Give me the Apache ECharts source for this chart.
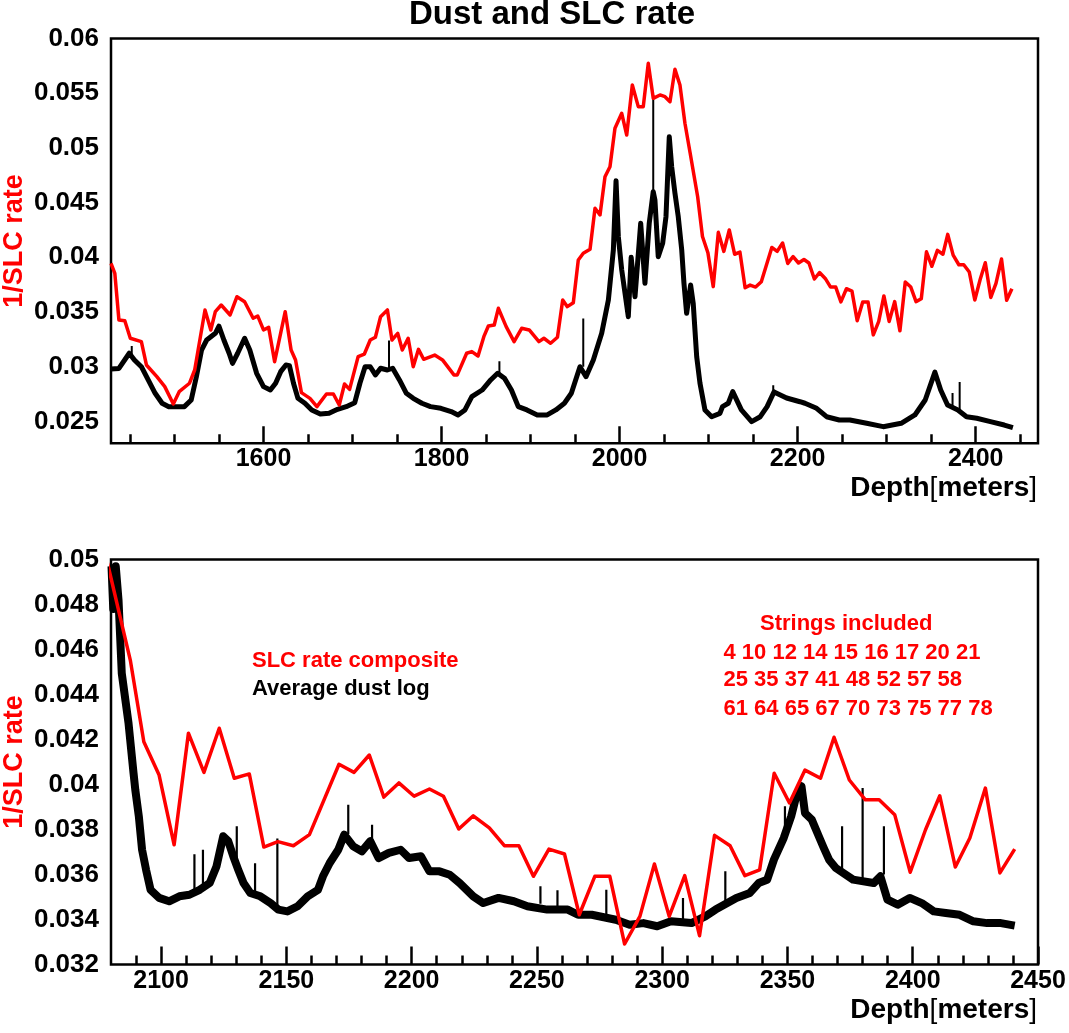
<!DOCTYPE html>
<html><head><meta charset="utf-8">
<script src="https://cdn.jsdelivr.net/npm/echarts@6/dist/echarts.min.js"></script>
<style>html,body{margin:0;padding:0;background:#fff}#c{width:1069px;height:1033px}</style>
</head><body><div id="c"></div><script>
// ---- SLC rate composite (1/SLC rate) ----
const redDepth = [1428.7,1433,1437.6,1444.2,1450.4,1462.8,1468.5,1480.2,1489.1,1498.7,1505.3,1516.9,1522.7,1534.3,1540.8,1545.9,1552.5,1562.5,1570.2,1578.8,1588.4,1593.5,1600,1605.8,1612.5,1624.4,1631,1636,1642.6,1652.2,1660,1670.7,1678.5,1685.1,1691,1696.7,1706.3,1713.3,1719.9,1725.7,1731.5,1739.2,1744.3,1750.8,1755.9,1762.5,1768.2,1774.1,1779.9,1792.3,1801.1,1813.9,1817.7,1828.2,1834,1841,1847.5,1852.6,1859.2,1863.8,1872.6,1881.5,1890,1898.5,1909.4,1915,1922.5,1930.2,1936.1,1941.3,1948,1953.6,1959.2,1966.8,1972.4,1978,1983.6,1989.2,1994.8,2002.4,2008,2014.3,2021,2026.6,2032.2,2037.8,2045.4,2051,2056.6,2062.2,2067.8,2073.4,2079.1,2087.7,2093.1,2099.2,2105.2,2110.9,2117.1,2123.2,2129.2,2135.2,2141,2146.6,2152.8,2159.2,2171,2177,2183.1,2188.9,2194.9,2201,2207.1,2212.7,2218.8,2224.6,2231,2237,2242.8,2248.6,2254.8,2261,2266.9,2273.1,2279.1,2285,2291.1,2296.9,2302.8,2309,2314.9,2320.9,2327.1,2333,2338.9,2344.7,2350.8,2357,2363.2,2368.6,2374.7,2381.1,2386.6,2392.8,2399,2405.1,2410.8,2417,2422.8,2429,2434.8,2440.7];
const redRate = [0.03945,0.03854,0.03427,0.03421,0.0326,0.03229,0.03016,0.02909,0.02818,0.0266,0.02772,0.02849,0.0297,0.03519,0.03336,0.03503,0.03564,0.03473,0.0364,0.03594,0.03443,0.03464,0.03336,0.0336,0.03046,0.03503,0.03153,0.03061,0.02763,0.02711,0.02635,0.02751,0.02751,0.0265,0.02842,0.02793,0.03092,0.03116,0.03244,0.03269,0.03457,0.03519,0.03244,0.03305,0.03153,0.0326,0.0300,0.03159,0.03068,0.03107,0.03062,0.02925,0.02925,0.03123,0.03138,0.03098,0.03275,0.03372,0.03381,0.03534,0.03366,0.03229,0.03351,0.03336,0.03229,0.0326,0.03214,0.03269,0.0361,0.03549,0.03585,0.03976,0.04037,0.04073,0.04448,0.04387,0.04737,0.04828,0.05179,0.05316,0.05118,0.05575,0.05377,0.05377,0.05773,0.05453,0.05484,0.05468,0.05422,0.05718,0.05575,0.05225,0.0496,0.04553,0.0419,0.04042,0.03732,0.04228,0.04054,0.0425,0.04028,0.04047,0.03722,0.03746,0.03728,0.03777,0.0409,0.04054,0.04131,0.03944,0.04007,0.03948,0.0398,0.03948,0.03802,0.03861,0.03807,0.03728,0.03728,0.03592,0.03713,0.03691,0.03421,0.03592,0.03592,0.03291,0.03414,0.03647,0.03414,0.03595,0.03328,0.03774,0.03728,0.03595,0.03621,0.0405,0.03918,0.04064,0.04028,0.0421,0.0402,0.03932,0.03932,0.03866,0.0361,0.03799,0.0395,0.03633,0.03762,0.03984,0.03607,0.03713];

// ---- Average dust log, as scaled in the upper panel ----
const dustTopDepth = [1428.7,1437.6,1449.2,1455,1462.8,1470.5,1478.3,1486.1,1493.6,1501.4,1511.1,1518.8,1524.6,1530.4,1536.2,1545.9,1550,1555.5,1561.4,1565.2,1571,1578.8,1584.6,1592.3,1600,1607.7,1613.6,1619.3,1625.2,1629.1,1633.7,1638.7,1646.5,1654.2,1663.8,1673.6,1683.2,1692.9,1702.5,1708.3,1714.1,1719.9,1725.7,1731.5,1739.2,1745.1,1752.7,1760.5,1768.2,1777.9,1787.6,1799.2,1810.8,1818.5,1826.3,1834,1845.6,1855.2,1863,1870.7,1878.5,1886.2,1895.9,1907.5,1918.7,1928.4,1938,1945.8,1955.5,1962.3,1970.5,1979.9,1987.4,1993,1996,1998.6,2002.4,2009.8,2013,2017.3,2023.7,2028.5,2033.3,2037.8,2039.7,2043.4,2048.4,2052.1,2055.8,2058.5,2062.2,2065.9,2069.8,2072.3,2075.3,2079.8,2082.7,2086.6,2090.3,2095.9,2103.4,2112.7,2115.6,2122.1,2127.1,2136.8,2148.3,2158,2165.7,2173.5,2187.6,2202.6,2208.2,2221.3,2232.5,2246.8,2258.7,2277.5,2296.1,2316.3,2331.7,2343.3,2354.2,2360.7,2368.4,2380,2389.7,2401.2,2416.6,2432.1,2441.8];
const dustTopValue = [0.0298,0.02984,0.03123,0.03062,0.030,0.02879,0.02757,0.02666,0.02635,0.02633,0.02635,0.02696,0.02909,0.03153,0.03244,0.03305,0.0337,0.03244,0.03123,0.03031,0.03123,0.0326,0.03153,0.0294,0.02818,0.02787,0.02849,0.02955,0.03016,0.0301,0.02849,0.02711,0.02666,0.02605,0.02568,0.02575,0.02611,0.02635,0.02671,0.02849,0.030,0.030,0.02925,0.02986,0.0297,0.02986,0.02879,0.02757,0.02711,0.02666,0.02635,0.0262,0.0259,0.02559,0.02605,0.02726,0.02787,0.02879,0.0294,0.02894,0.02787,0.02635,0.02605,0.02559,0.02559,0.02605,0.02666,0.02757,0.030,0.02909,0.03062,0.03305,0.0361,0.04067,0.0470,0.04189,0.03884,0.03457,0.0400,0.0364,0.04311,0.03763,0.04311,0.0460,0.04524,0.04006,0.04128,0.04371,0.05102,0.04828,0.04585,0.04371,0.04067,0.03763,0.03488,0.03747,0.0358,0.03092,0.02849,0.02605,0.02543,0.02574,0.02635,0.02666,0.02772,0.02605,0.02498,0.02543,0.02635,0.0277,0.02714,0.0268,0.02666,0.0262,0.02543,0.02513,0.02513,0.02483,0.02452,0.02483,0.02559,0.02696,0.0295,0.02787,0.0265,0.02605,0.02543,0.02529,0.02498,0.02467,0.02443];
// narrow spikes on the upper dust log: depth, foot, tip
const topSpikeDepth = [1452,1741,1865,1959.2,2037.8,2172.6,2374,2382];
const topSpikeFoot  = [0.0311,0.0297,0.0293,0.0300,0.0455,0.0275,0.0263,0.0258];
const topSpikeTip   = [0.0319,0.0324,0.0305,0.0344,0.0548,0.0283,0.0276,0.0286];

// ---- Average dust log, as scaled in the lower panel ----
const dustBottomDepth = [2080.2,2080.9,2081.9,2083,2084.3,2087,2089,2089.7,2091.1,2092.4,2094,2095.8,2099.2,2103.2,2107.3,2111.3,2115.4,2119.4,2122.1,2124.8,2126.8,2128.8,2130.8,2132.9,2135.6,2139.6,2143.7,2146.8,2150.4,2154.5,2158.5,2162.6,2164.6,2167.3,2170.7,2173.1,2176.7,2180.1,2183.5,2186.8,2190.9,2195.6,2199,2203.7,2207.1,2211.1,2215.2,2219.2,2224.6,2228.6,2234.7,2240.8,2246.2,2254.1,2262.3,2266.4,2271.9,2281.5,2287,2292.5,2298,2303.5,2311.7,2317.2,2321.3,2329.6,2335,2338.5,2341.9,2344.6,2348.5,2351.5,2353.5,2355.6,2357,2359.7,2362.5,2364.5,2366.6,2369.3,2376.2,2384.4,2387.1,2389.9,2394,2398.8,2403.6,2408.4,2413.2,2418.7,2424.2,2429.7,2435.2,2440.7];
const dustBottomValue = [0.0497,0.0478,0.0497,0.0482,0.04494,0.04272,0.0405,0.03976,0.03859,0.0371,0.03621,0.03532,0.03496,0.03481,0.03503,0.0351,0.03532,0.03562,0.03636,0.0377,0.03748,0.03681,0.03621,0.03562,0.03518,0.03503,0.03473,0.03444,0.03436,0.03459,0.03503,0.03532,0.03592,0.03651,0.0371,0.03777,0.03725,0.03703,0.03748,0.03673,0.03696,0.0371,0.03673,0.03681,0.03614,0.03614,0.03599,0.03562,0.03503,0.03473,0.03496,0.03481,0.03459,0.03444,0.03444,0.03421,0.03421,0.03399,0.03377,0.03384,0.0337,0.03392,0.03384,0.03414,0.03444,0.03496,0.03518,0.03562,0.03577,0.03666,0.03762,0.03859,0.03948,0.03992,0.03873,0.03844,0.0377,0.03718,0.03666,0.03629,0.03577,0.03562,0.03592,0.03488,0.03466,0.03496,0.03473,0.03436,0.03429,0.03421,0.03392,0.03384,0.03384,0.03373];
// narrow spikes on the lower dust log: depth, foot, tip
const botSpikeDepth = [2113.3,2116.7,2130.2,2137.5,2146.4,2174.7,2184.2,2251.4,2258.2,2277.7,2308.3,2325.2,2349,2371.8,2380,2388.5];
const botSpikeFoot  = [0.0352,0.0354,0.0366,0.0351,0.0345,0.0378,0.0374,0.0347,0.0346,0.0342,0.0339,0.0347,0.0376,0.0361,0.0358,0.0360];
const botSpikeTip   = [0.0369,0.0371,0.03814,0.0365,0.0376,0.0391,0.03821,0.03548,0.0353,0.03532,0.03496,0.03614,0.03903,0.03814,0.03984,0.03814];

// ---- ticks ----
const topMajorTicks = [1600,1800,2000,2200,2400];
const topMinorTicks = [1450,1500,1550,1650,1700,1750,1850,1900,1950,2050,2100,2150,2250,2300,2350,2450];
const topYLabels = [0.025,0.03,0.035,0.04,0.045,0.05,0.055,0.06];
const botMajorTicks = [2100,2150,2200,2250,2300,2350,2400,2450];
const botMinorTicks = [2090,2110,2120,2130,2140,2160,2170,2180,2190,2210,2220,2230,2240,2260,2270,2280,2290,2310,2320,2330,2340,2360,2370,2380,2390,2410,2420,2430,2440];
const stringRows = ['4 10 12 14 15 16 17 20 21','25 35 37 41 48 52 57 58','61 64 65 67 70 73 75 77 78'];

const zip = (a,b) => a.map((d,i) => [d,b[i]]);
const spikes = (d,f,t) => { const out=[]; d.forEach((x,i)=>{ out.push([x,f[i]],[x,t[i]],'-'); }); return out; };
const FONT = '"Liberation Sans", Arial, Helvetica, sans-serif';
const fmt = v => String(+(+v).toFixed(4));

function xMajor(grid, min, max, ticks, len, margin) {
  return {type:'value', gridIndex:grid, min:min, max:max, position:'bottom',
    axisLine:{show:false}, splitLine:{show:false},
    axisTick:{show:true, inside:true, length:len, customValues:ticks, lineStyle:{color:'#000', width:2.5}},
    axisLabel:{show:true, customValues:ticks, margin:margin, color:'#000', fontSize:25, fontWeight:'bold', fontFamily:FONT, formatter:v=>String(v)}};
}
function xMinor(grid, min, max, ticks, len) {
  return {type:'value', gridIndex:grid, min:min, max:max, position:'bottom',
    axisLine:{show:false}, splitLine:{show:false}, axisLabel:{show:false},
    axisTick:{show:true, inside:true, length:len, customValues:ticks, lineStyle:{color:'#000', width:2.5}}};
}
function yAx(grid, min, max, extra) {
  return Object.assign({type:'value', gridIndex:grid, min:min, max:max,
    axisLine:{show:false}, axisTick:{show:false}, splitLine:{show:false},
    axisLabel:{margin:12, color:'#000', fontSize:26, fontWeight:'bold', fontFamily:FONT, formatter:fmt}}, extra||{});
}
function lineSeries(xi, yi, data, color, w, z) {
  return {type:'line', xAxisIndex:xi, yAxisIndex:yi, data:data, showSymbol:false, symbol:'none', connectNulls:false,
    lineStyle:{color:color, width:w, join:'round', cap:'butt'}, clip:true, z:z, animation:false};
}
function txt(x, y, text, color, size, align, extra) {
  return Object.assign({type:'text', x:x, y:y, style:{text:text, fill:color, font:'bold '+size+'px '+FONT, align:align||'left', verticalAlign:'middle'}}, extra||{});
}
function depthName(y) {
  return {type:'text', x:1037, y:y, style:{text:'{b|Depth}{n|[}{b|meters}{n|]}', align:'right', verticalAlign:'middle',
    rich:{b:{fontSize:28, fontWeight:'bold', fontFamily:FONT, fill:'#000'}, n:{fontSize:28, fontWeight:'normal', fontFamily:FONT, fill:'#000'}}}};
}

const chart = echarts.init(document.getElementById('c'), null, {renderer:'canvas'});
const topY = yAx(0, 0.023, 0.06);
topY.axisLabel.customValues = topYLabels;
chart.setOption({
  animation:false,
  backgroundColor:'#fff',
  grid:[
    {left:111, top:38.5, width:927, height:404.8, show:true, borderColor:'#000', borderWidth:2.5, backgroundColor:'transparent'},
    {left:111, top:559.5, width:927, height:405, show:true, borderColor:'#000', borderWidth:2.5, backgroundColor:'transparent'}
  ],
  xAxis:[
    xMajor(0, 1428.7, 2470, topMajorTicks, 17, 3),
    xMinor(0, 1428.7, 2470, topMinorTicks, 9),
    xMajor(1, 2080, 2450, botMajorTicks, 18, 4),
    xMinor(1, 2080, 2450, botMinorTicks, 9)
  ],
  yAxis:[
    topY,
    yAx(1, 0.032, 0.05, {interval:0.002})
  ],
  series:[
    lineSeries(0, 0, zip(dustTopDepth, dustTopValue), '#000', 5, 2),
    lineSeries(0, 0, spikes(topSpikeDepth, topSpikeFoot, topSpikeTip), '#000', 2, 2),
    lineSeries(0, 0, zip(redDepth, redRate), '#ff0000', 3.5, 3),
    lineSeries(2, 1, zip(dustBottomDepth, dustBottomValue), '#000', 8, 2),
    lineSeries(2, 1, spikes(botSpikeDepth, botSpikeFoot, botSpikeTip), '#000', 2.2, 2),
    lineSeries(2, 1, zip(redDepth, redRate), '#ff0000', 3.5, 3)
  ],
  graphic:[
    txt(552, 15, 'Dust and SLC rate', '#000', 33, 'center'),
    txt(15, 241, '1/SLC rate', '#ff0000', 27, 'center', {rotation:Math.PI/2}),
    txt(15, 762, '1/SLC rate', '#ff0000', 27, 'center', {rotation:Math.PI/2}),
    depthName(488),
    depthName(1010.5),
    txt(252, 661.4, 'SLC rate composite', '#ff0000', 22, 'left'),
    txt(252, 689.4, 'Average dust log', '#000', 22, 'left'),
    txt(760, 623.8, 'Strings included', '#ff0000', 22, 'left'),
    txt(723.5, 652.8, stringRows[0], '#ff0000', 22, 'left'),
    txt(723.5, 680.4, stringRows[1], '#ff0000', 22, 'left'),
    txt(723.5, 708.8, stringRows[2], '#ff0000', 22, 'left')
  ]
});
</script></body></html>
